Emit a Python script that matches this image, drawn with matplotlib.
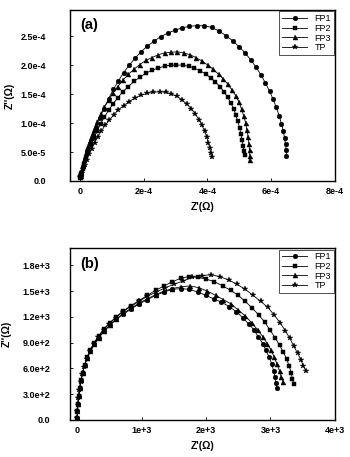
import matplotlib
matplotlib.use("Agg")
import matplotlib.pyplot as plt
import numpy as np

plt.rcParams['font.family'] = ['Liberation Sans', 'DejaVu Sans']

series_names = ["FP1", "FP2", "FP3", "TP"]
markers = ["o", "s", "^", "*"]
msizes = [3.4, 3.3, 3.6, 4.0]

# ---------------- Panel (a): X in 1e-4 ohm, Y in 1e-4 ohm ----------------
a_fp1_x = [0.0, 0.02, 0.05, 0.10, 0.16, 0.23, 0.31, 0.40, 0.50, 0.62, 0.75, 0.90, 1.05, 1.20, 1.37, 1.55,
           1.73, 1.92, 2.12, 2.32, 2.53, 2.75, 2.97, 3.20, 3.43, 3.66, 3.90, 4.13, 4.36, 4.58, 4.79, 4.99,
           5.18, 5.36, 5.53, 5.68, 5.82, 5.95, 6.06, 6.16, 6.25, 6.32, 6.38, 6.42, 6.45, 6.47, 6.48]
a_fp1_y = [0.08, 0.10, 0.15, 0.26, 0.38, 0.51, 0.65, 0.79, 0.93, 1.09, 1.24, 1.42, 1.58, 1.72, 1.87, 2.00,
           2.12, 2.23, 2.33, 2.41, 2.49, 2.55, 2.60, 2.64, 2.67, 2.68, 2.68, 2.65, 2.59, 2.51, 2.42, 2.32,
           2.21, 2.09, 1.96, 1.83, 1.69, 1.55, 1.41, 1.27, 1.13, 0.99, 0.86, 0.74, 0.63, 0.53, 0.43]

a_fp2_x = [0.0, 0.02, 0.05, 0.09, 0.14, 0.20, 0.27, 0.35, 0.44, 0.54, 0.65, 0.77, 0.90, 1.04, 1.19, 1.35,
           1.52, 1.70, 1.88, 2.07, 2.26, 2.46, 2.66, 2.85, 3.03, 3.22, 3.41, 3.59, 3.77, 3.94, 4.10, 4.25,
           4.39, 4.52, 4.63, 4.73, 4.82, 4.89, 4.95, 5.01, 5.05, 5.09, 5.12, 5.15, 5.17]
a_fp2_y = [0.07, 0.09, 0.12, 0.20, 0.29, 0.39, 0.51, 0.62, 0.74, 0.86, 0.99, 1.10, 1.22, 1.33, 1.44, 1.54,
           1.63, 1.72, 1.79, 1.86, 1.91, 1.95, 1.98, 2.00, 2.00, 2.00, 1.98, 1.95, 1.90, 1.85, 1.78, 1.71,
           1.63, 1.54, 1.45, 1.35, 1.25, 1.14, 1.03, 0.92, 0.81, 0.70, 0.60, 0.51, 0.45]

a_fp3_x = [0.0, 0.02, 0.05, 0.09, 0.14, 0.20, 0.27, 0.35, 0.44, 0.54, 0.65, 0.77, 0.90, 1.04, 1.19, 1.35,
           1.52, 1.70, 1.88, 2.07, 2.26, 2.46, 2.66, 2.86, 3.05, 3.25, 3.45, 3.64, 3.83, 4.01, 4.18, 4.35,
           4.50, 4.64, 4.77, 4.89, 4.99, 5.07, 5.14, 5.20, 5.24, 5.28, 5.30, 5.32, 5.33, 5.34]
a_fp3_y = [0.07, 0.09, 0.14, 0.25, 0.36, 0.49, 0.61, 0.75, 0.88, 1.02, 1.15, 1.28, 1.40, 1.52, 1.63, 1.74,
           1.84, 1.93, 2.01, 2.08, 2.13, 2.18, 2.21, 2.22, 2.23, 2.21, 2.18, 2.13, 2.07, 2.00, 1.93, 1.84,
           1.76, 1.67, 1.57, 1.47, 1.36, 1.24, 1.12, 1.00, 0.88, 0.76, 0.64, 0.53, 0.43, 0.37]

a_tp_x = [0.0, 0.02, 0.04, 0.07, 0.11, 0.16, 0.22, 0.29, 0.37, 0.46, 0.56, 0.67, 0.79, 0.92, 1.06, 1.21,
          1.37, 1.54, 1.72, 1.91, 2.10, 2.30, 2.50, 2.69, 2.87, 3.04, 3.20, 3.35, 3.49, 3.62, 3.73, 3.83,
          3.91, 3.98, 4.03, 4.07, 4.10, 4.13]
a_tp_y = [0.07, 0.08, 0.10, 0.13, 0.20, 0.28, 0.37, 0.46, 0.56, 0.66, 0.76, 0.86, 0.96, 1.05, 1.14, 1.23,
          1.30, 1.37, 1.43, 1.48, 1.51, 1.53, 1.54, 1.53, 1.50, 1.46, 1.40, 1.33, 1.25, 1.16, 1.06, 0.96,
          0.86, 0.76, 0.66, 0.57, 0.48, 0.41]

a_scale = 1e-4
a_xticks = [0, 2e-4, 4e-4, 6e-4, 8e-4]
a_xticklabels = ["0", "2e-4", "4e-4", "6e-4", "8e-4"]
a_yticks = [0, 5e-5, 1e-4, 1.5e-4, 2e-4, 2.5e-4]
a_yticklabels = ["0.0", "5.0e-5", "1.0e-4", "1.5e-4", "2.0e-4", "2.5e-4"]

# ---------------- Panel (b): X and Y in 1e3 ohm ----------------
b_fp1_x = [0.0, 0.006, 0.014, 0.025, 0.04, 0.06, 0.085, 0.115, 0.155, 0.205, 0.265, 0.335, 0.415, 0.505,
           0.605, 0.715, 0.835, 0.96, 1.09, 1.22, 1.35, 1.48, 1.61, 1.74, 1.87, 2.00, 2.12, 2.24, 2.36,
           2.47, 2.57, 2.66, 2.74, 2.81, 2.88, 2.93, 2.98, 3.02, 3.05, 3.07, 3.09, 3.10]
b_fp1_y = [0.02, 0.10, 0.19, 0.28, 0.37, 0.46, 0.55, 0.64, 0.72, 0.80, 0.88, 0.96, 1.03, 1.10,
           1.17, 1.23, 1.29, 1.35, 1.40, 1.45, 1.49, 1.52, 1.53, 1.52, 1.49, 1.45, 1.41, 1.37, 1.32,
           1.26, 1.19, 1.12, 1.05, 0.97, 0.89, 0.81, 0.73, 0.65, 0.57, 0.50, 0.43, 0.37]

b_fp2_x = [0.0, 0.006, 0.014, 0.025, 0.04, 0.06, 0.085, 0.115, 0.155, 0.205, 0.265, 0.335, 0.415, 0.505,
           0.605, 0.715, 0.835, 0.96, 1.09, 1.22, 1.35, 1.48, 1.61, 1.74, 1.87, 2.00, 2.13, 2.26, 2.38,
           2.50, 2.61, 2.72, 2.82, 2.91, 2.99, 3.07, 3.14, 3.20, 3.25, 3.29, 3.32, 3.34, 3.36]
b_fp2_y = [0.02, 0.10, 0.19, 0.28, 0.37, 0.46, 0.55, 0.64, 0.73, 0.82, 0.90, 0.98, 1.06, 1.13,
           1.20, 1.27, 1.33, 1.39, 1.45, 1.51, 1.56, 1.61, 1.65, 1.67, 1.66, 1.64, 1.61, 1.56, 1.51,
           1.45, 1.38, 1.30, 1.22, 1.14, 1.05, 0.96, 0.87, 0.79, 0.71, 0.63, 0.55, 0.48, 0.42]

b_fp3_x = [0.0, 0.006, 0.014, 0.025, 0.04, 0.06, 0.085, 0.115, 0.155, 0.205, 0.265, 0.335, 0.415, 0.505,
           0.605, 0.715, 0.835, 0.96, 1.09, 1.22, 1.35, 1.48, 1.61, 1.75, 1.89, 2.02, 2.15, 2.27, 2.39,
           2.50, 2.61, 2.71, 2.80, 2.88, 2.95, 3.01, 3.06, 3.10, 3.14, 3.17, 3.20]
b_fp3_y = [0.02, 0.10, 0.19, 0.28, 0.37, 0.46, 0.55, 0.64, 0.72, 0.80, 0.88, 0.96, 1.03, 1.10,
           1.17, 1.24, 1.30, 1.36, 1.41, 1.46, 1.50, 1.53, 1.55, 1.56, 1.54, 1.50, 1.45, 1.40, 1.35,
           1.28, 1.21, 1.13, 1.05, 0.97, 0.89, 0.81, 0.73, 0.65, 0.57, 0.50, 0.44]

b_tp_x = [0.0, 0.005, 0.012, 0.02, 0.035, 0.055, 0.08, 0.11, 0.15, 0.20, 0.26, 0.33, 0.41, 0.50, 0.60,
          0.71, 0.83, 0.96, 1.09, 1.23, 1.37, 1.51, 1.65, 1.79, 1.93, 2.07, 2.21, 2.35, 2.48, 2.61, 2.73,
          2.85, 2.96, 3.06, 3.15, 3.23, 3.30, 3.36, 3.42, 3.47, 3.51, 3.55]
b_tp_y = [0.02, 0.10, 0.18, 0.26, 0.35, 0.44, 0.53, 0.62, 0.71, 0.80, 0.89, 0.97, 1.05, 1.12, 1.19,
          1.26, 1.32, 1.38, 1.44, 1.49, 1.54, 1.58, 1.62, 1.66, 1.68, 1.69, 1.67, 1.63, 1.58, 1.52, 1.45,
          1.38, 1.31, 1.22, 1.13, 1.04, 0.95, 0.86, 0.78, 0.70, 0.63, 0.57]

b_scale = 1e3
b_xticks = [0, 1e3, 2e3, 3e3, 4e3]
b_xticklabels = ["0", "1e+3", "2e+3", "3e+3", "4e+3"]
b_yticks = [0, 300, 600, 900, 1200, 1500, 1800]
b_yticklabels = ["0.0", "3.0e+2", "6.0e+2", "9.0e+2", "1.2e+3", "1.5e+3", "1.8e+3"]

fig = plt.figure(figsize=(3.5, 4.57), dpi=100)
ax_a = fig.add_axes([0.2, 0.604, 0.757, 0.374])
ax_b = fig.add_axes([0.2, 0.081, 0.757, 0.376])

def draw(ax, xs, ys, scale, xlim, ylim, xticks, xtl, yticks, ytl, tag, ypad, ylab_x):
    for x, y, name, m, ms in zip(xs, ys, series_names, markers, msizes):
        ax.plot(np.array(x) * scale, np.array(y) * scale, color="black", lw=0.6,
                marker=m, ms=ms, mfc="black", mec="black", mew=0.3, label=name)
    ax.set_xlim(*xlim)
    ax.set_ylim(*ylim)
    ax.set_xticks(xticks)
    ax.set_xticklabels(xtl, fontsize=6.5, fontweight="bold")
    ax.set_yticks(yticks)
    ax.set_yticklabels(ytl, fontsize=6.5, fontweight="bold")
    ax.tick_params(direction="in", length=2.5, width=0.6, top=False, right=False)
    ax.tick_params(axis="y", pad=ypad)
    ax.tick_params(axis="x", pad=4)
    for s in ax.spines.values():
        s.set_linewidth(1.0)
    ax.set_xlabel("Z'(Ω)", fontsize=7.5, fontweight="bold", labelpad=5)
    ax.set_ylabel("Z''(Ω)", fontsize=7.5, fontweight="bold")
    ax.yaxis.set_label_coords(ylab_x, 0.5)
    ax.text(0.04, 0.91, tag, transform=ax.transAxes, fontsize=10.5, fontweight="bold",
            va="center", ha="left")
    leg = ax.legend(loc="upper right", fontsize=6.5, frameon=True, fancybox=False,
                    edgecolor="black", handlelength=2.8, borderaxespad=0.15,
                    labelspacing=0.08, borderpad=0.3, handletextpad=0.8)
    leg.get_frame().set_linewidth(0.6)

draw(ax_a, [a_fp1_x, a_fp2_x, a_fp3_x, a_tp_x], [a_fp1_y, a_fp2_y, a_fp3_y, a_tp_y], a_scale,
     (-0.31e-4, 8e-4), (0, 2.95e-4), a_xticks, a_xticklabels, a_yticks, a_yticklabels, "(a)", 17, -0.21)
draw(ax_b, [b_fp1_x, b_fp2_x, b_fp3_x, b_tp_x], [b_fp1_y, b_fp2_y, b_fp3_y, b_tp_y], b_scale,
     (-0.11e3, 4e3), (0, 2.0e3), b_xticks, b_xticklabels, b_yticks, b_yticklabels, "(b)", 14, -0.22)

fig.savefig("out.png", dpi=100)
